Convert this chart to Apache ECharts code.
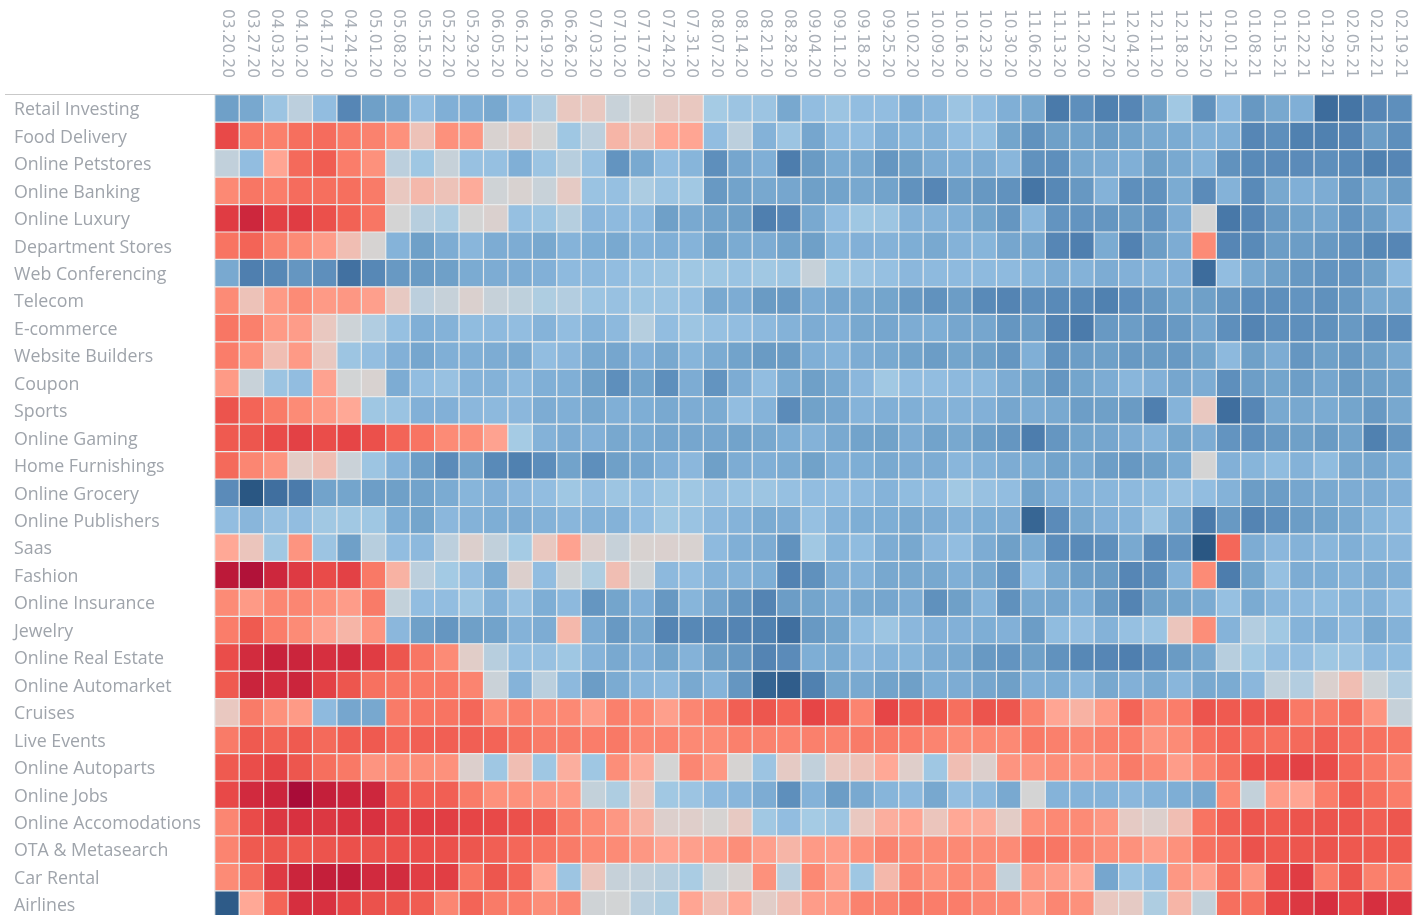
<!DOCTYPE html>
<html>
<head>
<meta charset="utf-8">
<style>html,body{margin:0;padding:0;background:#fff;overflow:hidden}#chart{width:1422px;height:915px}</style>
<script src="https://cdn.jsdelivr.net/npm/echarts@6/dist/echarts.min.js"></script>
</head>
<body>
<div id="chart"></div>
<script>
const dates = ['03.20.20','03.27.20','04.03.20','04.10.20','04.17.20','04.24.20','05.01.20','05.08.20','05.15.20','05.22.20','05.29.20','06.05.20','06.12.20','06.19.20','06.26.20','07.03.20','07.10.20','07.17.20','07.24.20','07.31.20','08.07.20','08.14.20','08.21.20','08.28.20','09.04.20','09.11.20','09.18.20','09.25.20','10.02.20','10.09.20','10.16.20','10.23.20','10.30.20','11.06.20','11.13.20','11.20.20','11.27.20','12.04.20','12.11.20','12.18.20','12.25.20','01.01.21','01.08.21','01.15.21','01.22.21','01.29.21','02.05.21','02.12.21','02.19.21'];
const categories = ['Retail Investing','Food Delivery','Online Petstores','Online Banking','Online Luxury','Department Stores','Web Conferencing','Telecom','E-commerce','Website Builders','Coupon','Sports','Online Gaming','Home Furnishings','Online Grocery','Online Publishers','Saas','Fashion','Online Insurance','Jewelry','Online Real Estate','Online Automarket','Cruises','Live Events','Online Autoparts','Online Jobs','Online Accomodations','OTA & Metasearch','Car Rental','Airlines'];

const retailInvesting = [-5,-4.5,-2.5,-1,-3,-6.5,-5,-4.5,-3,-4,-4,-4.5,-3,-1.5,1,1,-0.5,0,0.8,1,-2,-2.5,-2.5,-4.5,-3,-2.5,-3,-3,-4,-3.5,-2.5,-3,-4,-4.5,-7.2,-6,-6.8,-6.5,-5,-2.2,-5.8,-3.2,-5.5,-4.5,-4,-8,-7.5,-6.5,-6];
const foodDelivery = [5.8,3.8,3.5,4.2,4.3,3.7,3.4,2.8,1.2,2.8,2.6,0.2,0.7,0,-2.3,-1,1.6,1.2,2,2.1,-3,-1,-3.8,-2.5,-4.6,-3.2,-3,-4,-3.6,-3.8,-3,-2.8,-4.7,-5.8,-5,-4.8,-5.2,-4.8,-4.4,-4.3,-3.8,-4,-6.5,-6,-6.8,-6.8,-6.6,-5.2,-6];
const onlinePetstores = [-0.8,-3,2.1,4.4,4.9,3.6,2.8,-1,-2.3,-0.6,-2.7,-2.8,-4,-2.5,-1.2,-2.7,-5.7,-4.4,-3,-3.6,-6,-4.6,-4,-7,-5.3,-4.3,-4.5,-5.6,-5,-4.2,-4,-4.2,-3.5,-5.8,-6,-4.5,-4.2,-4,-5,-4.4,-3.8,-5.8,-6.3,-6.2,-6.2,-6,-6.3,-6.8,-6.5];
const onlineBanking = [3.1,3.9,3.6,4.3,4.2,4.2,3.7,1,1.5,1.2,1.9,-0.2,0.2,-0.5,0.8,-2.6,-2.8,-1.7,-2.5,-2.2,-5.4,-4.8,-4.5,-4.6,-5,-4.8,-4.5,-4.8,-5.8,-6.5,-5.2,-5.5,-5.8,-7.5,-6.4,-5.5,-3.8,-6,-5.8,-4.3,-6.2,-3.8,-6.3,-4.5,-4,-4.2,-5.6,-4.5,-5.2];
const onlineLuxury = [6.4,7.5,6.2,6.4,5.5,4.7,3.9,0,-1.2,-1.7,0,0.3,-2.8,-2.4,-1.3,-3.4,-3.2,-3.3,-5,-4.4,-4.8,-5,-6.9,-6.5,-4.4,-3,-2.3,-2.4,-3.8,-3.8,-4,-4.7,-5.6,-3.5,-5.7,-5.7,-5.6,-5.3,-5.7,-4.2,0,-7.3,-6.5,-5.4,-4.8,-4.6,-5.7,-5.2,-3.9];
const departmentStores = [4,4.6,3.4,3,2.4,1.3,0.1,-3.7,-5,-4.2,-3.5,-4.2,-4.2,-4.5,-3.7,-4.1,-4.4,-3.8,-4,-3.7,-4.8,-4.3,-4.2,-4.8,-5,-3.6,-3.9,-3.8,-4.1,-4.4,-3.8,-3.6,-4.6,-4.6,-6.5,-6.9,-4.3,-6.7,-5.2,-4.2,3,-6.5,-6.3,-5.2,-5.2,-5.4,-5.9,-6.4,-6.5];
const webConferencing = [-4.4,-6.9,-6.4,-5.6,-6,-7.7,-6.4,-5.4,-5.3,-5,-4.3,-4.2,-4.2,-3.9,-3.2,-3.3,-3,-2.6,-2.4,-2.3,-2.3,-2.6,-2.2,-2.4,-0.6,-2.3,-2.5,-2.8,-3.4,-3.2,-3.2,-3.2,-3.2,-3.6,-4.2,-3.8,-4.2,-3.9,-3.7,-3.9,-8,-3,-4.4,-5,-5.5,-5.7,-5.7,-5,-3.2];
const telecom = [3,1.2,2.5,3,2.5,2.6,2.3,0.9,-1,-0.6,0.3,-0.6,-0.9,-1.6,-1.4,-2.5,-2.7,-2.4,-2.5,-2.8,-4.4,-4.2,-5.3,-5.4,-4.2,-4.6,-4.5,-4.7,-5.4,-5.8,-5.2,-6.3,-6.6,-6,-6.3,-6.4,-6.8,-6.1,-5.5,-4.7,-5,-5.6,-6.1,-6,-5.7,-5.9,-5.5,-4.4,-4.4];
const eCommerce = [3.9,3.5,2.5,2.4,1,-0.3,-1.5,-2.8,-4,-3.8,-3.1,-3.2,-3,-3.7,-3,-3.7,-3.3,-1.3,-3,-2.4,-2.8,-3,-3.3,-3.8,-4.2,-3.9,-4.5,-4.6,-4.2,-4.1,-4.6,-4.6,-5.6,-5.2,-6.6,-7.1,-5.4,-5.2,-5.7,-5.4,-4.6,-6,-6.6,-6,-6,-5.9,-5.4,-6,-6.1];
const websiteBuilders = [3.6,2.8,1.3,2.5,1,-2.4,-2.9,-3.9,-4.6,-4,-4,-4.2,-4.4,-3,-3.4,-4.4,-4.6,-3.9,-4.5,-3.6,-4.3,-4.8,-5.3,-5.3,-4,-3.7,-4.2,-4.4,-4.8,-5.2,-4.7,-5,-5.6,-4,-5.8,-5.2,-5,-5.4,-5.3,-5.4,-4.7,-3.3,-5,-4.2,-5.6,-5,-5.5,-5,-4.4];
const coupon = [2.5,-0.5,-2.5,-3,2.2,-0.1,0.2,-4.2,-3,-2.7,-3.7,-3.8,-3.3,-4,-4,-5,-6,-4.8,-6,-4.2,-5.7,-4.2,-3,-4.3,-5,-4.4,-3.4,-2.2,-3,-3,-3.3,-3.3,-4.2,-4.7,-5.6,-4.7,-4.2,-3.5,-3.9,-4.6,-4.2,-6,-5.1,-4.7,-5.1,-4.6,-5.3,-5,-4.8];
const sports = [5.3,4.6,3.7,3,2.5,2,-2.3,-2.6,-3.9,-3.9,-3.4,-3.3,-3.4,-4.2,-4,-4.5,-4,-4.1,-4.4,-4.2,-4.3,-3,-3.7,-6.2,-4.9,-4.6,-3.7,-4,-4,-3.8,-3.8,-3.9,-4.6,-4.2,-4.4,-5.1,-5,-5.3,-6.9,-3.7,1,-7.9,-6.5,-4.4,-4.5,-4.3,-4.7,-5.4,-4.5];
const onlineGaming = [5,5.2,5.7,6.2,5.6,6,5.5,4.6,4,3,2.9,2.2,-2,-3.8,-4.2,-3.9,-4.5,-4.3,-4.6,-4.6,-4.6,-4.8,-4.5,-4.1,-3.8,-4.4,-4.8,-4.9,-4.2,-4.8,-4.5,-5.1,-5.6,-7,-5.6,-4.7,-4.6,-4.2,-3.7,-4.7,-4.2,-5.7,-6,-5.4,-5,-5.3,-4.8,-6.8,-5.6];
const homeFurnishings = [4.4,3.2,2.7,0.7,1.3,-0.4,-2.4,-3.7,-5.1,-6.2,-4.8,-6.3,-6.8,-6.1,-4.8,-6,-5,-4.6,-3.9,-3.4,-5,-4.2,-4,-4.3,-4.9,-4,-4.1,-4.4,-4.2,-4.2,-3.5,-3.8,-4.2,-4.3,-4.8,-4.4,-5.1,-5.5,-5,-4.3,0,-3.9,-3.6,-3.1,-3.8,-3.1,-4.5,-4.6,-4.1];
const onlineGrocery = [-6.2,-9,-7.8,-7.1,-4.8,-4.7,-5.1,-5,-4.8,-4.3,-3.6,-3.9,-3.4,-3,-2.3,-2.9,-2.4,-2.8,-2.3,-2.3,-2.7,-2.6,-2.4,-2.8,-3,-3,-3.2,-3.7,-3.1,-3,-2.2,-2.7,-3,-4.8,-3.9,-3.7,-3.5,-3.3,-3.1,-2.7,-3,-3.8,-5.2,-5.2,-4.6,-4.4,-4.2,-4.2,-3.9];
const onlinePublishers = [-3,-3.5,-2.8,-3,-2.2,-2.2,-2.3,-4.1,-4.7,-3.4,-3.8,-4.1,-4.2,-3.8,-3.5,-3.8,-3.8,-3,-2.2,-2.6,-3.3,-3.7,-4.3,-4.2,-2.8,-3.7,-4.1,-4.1,-4.4,-4.2,-3.8,-4.1,-4.2,-8.3,-6.2,-4.5,-3.9,-3.7,-2.5,-4.4,-7.2,-5.4,-6.6,-6,-5.2,-4.8,-4.4,-3.6,-3.2];
const saas = [2,1.1,-2.2,2.7,-2.5,-5,-1.2,-3,-3.3,-1,0.4,-0.8,-2,1,2.2,0.4,-0.6,0.2,0.3,0.2,-3.2,-4,-4.2,-5.8,-2.2,-3.6,-3.1,-4.2,-4.5,-3.4,-3,-4.2,-5,-4.3,-6.1,-6.3,-6,-4.4,-6.3,-5.7,-9,4.5,-4.2,-3.4,-3.8,-3.5,-4,-3.6,-3.4];
const fashion = [8.3,8.7,7.5,6.5,5.7,6.2,3.8,1.7,-1,-2.1,-2.9,-4.3,0.4,-3,-0.2,-1.6,1.3,-0.2,-3.3,-3,-3.7,-3.8,-4.1,-6.7,-5.9,-4.2,-3.8,-4.5,-4.5,-4.5,-4,-4.5,-5.7,-3,-4.4,-5.1,-5.3,-6.5,-6,-3.8,3,-7,-4.7,-2.8,-4.2,-4.1,-3.8,-4.2,-4];
const onlineInsurance = [3,2.5,3.2,3.2,2.8,2.4,3.7,-0.7,-3,-3,-2.4,-3.8,-2.7,-4.1,-3.3,-5.6,-4.7,-3.9,-5.5,-3.6,-4.6,-5.6,-6.6,-5.2,-4.7,-4.2,-4.5,-4.6,-4.2,-5.9,-5,-3.7,-5.9,-4.4,-4.6,-4,-5.4,-6.6,-5,-4.7,-4.3,-2.8,-4.3,-3.5,-3.3,-3.1,-3.6,-3.8,-3];
const jewelry = [3.6,5,3.6,3,2.2,1.6,2.7,-3.4,-5,-5.6,-5,-4.8,-3.8,-4.2,1.5,-4.2,-5.4,-4.5,-6.6,-6.4,-6.4,-6.6,-6.8,-7.8,-5.4,-4.7,-3.1,-2.4,-3.4,-3.9,-3.9,-4.1,-3.9,-5.2,-3.1,-2.9,-3.8,-2.8,-2.6,1.1,2.9,-3.7,-1.4,-2.2,-3.7,-4,-3.3,-4.4,-3.8];
const onlineRealEstate = [5.6,7.2,7.8,7.6,7,7.2,6.4,5.2,3.9,3,0.6,-1.2,-2.8,-2.7,-2.3,-3.7,-4.4,-3.9,-4.7,-3.8,-5,-5.5,-6.6,-6.2,-4.1,-4.3,-3.4,-3.7,-3.6,-4.2,-4.4,-5.4,-5.7,-5,-5.8,-6.4,-6.5,-6.9,-6.1,-5.3,-4.5,-1.2,-2.2,-2.9,-2.9,-2.3,-2.5,-3.2,-3.1];
const onlineAutomarket = [5,7.7,7.2,7.6,6.2,5.2,4.1,3.9,3.8,3.8,3.3,-0.4,-3.7,-1.1,-3.3,-5.2,-4.3,-3.5,-3.3,-4.4,-3.7,-5.6,-8.4,-8.7,-6.8,-4.7,-4.4,-4.8,-5,-4.1,-4.2,-4.6,-5,-4,-4.1,-3.5,-4.5,-3.9,-4.3,-3.5,-4.4,-4.3,-3.4,-0.8,-1.4,0.3,1.3,-0.3,-1.5];
const cruises = [1,3.7,2.8,2.5,-3.2,-4.6,-4.5,3.7,4,4,4.5,3,3.5,3.1,3.1,2.4,3.5,3.1,2.3,3.2,3.7,4.8,5.2,4.6,6,5.3,3.3,6,5,5,4.2,5.3,5.2,3.4,2.1,1.7,2.5,4.6,3.2,3.6,5.3,5,5.2,5.3,3.8,3.7,4.2,2.7,-0.6];
const liveEvents = [3.7,5,4.7,5,4.4,4.9,5,4.5,4.8,4.8,4.8,4.6,4.2,3.7,3.7,3.6,3.8,3.2,3.3,3.1,3,3.5,3.4,3.3,3.5,3.4,3.7,3.7,3.6,3.3,3,3.1,3.1,3.8,3.5,3.2,3.5,3.6,2.7,3,4.1,4.6,4.4,4.2,4.4,4.8,4.3,4.1,4];
const onlineAutoparts = [5,5.6,6.1,5.2,4.2,3.8,2.7,2.9,2.9,2.8,0.4,-2.3,1.3,-2.3,1.8,-2.3,2.9,1.9,0,3.2,2.6,0.1,-2.5,0.8,-0.8,1,1.2,2,0.5,-2.3,1.3,0.4,2.7,2.7,2.9,2.7,2.8,3.7,3.1,2.4,3.2,4.2,5.5,5.6,6.2,5.7,4.5,3.8,3.2];
const onlineJobs = [5.8,7.3,7.6,9,8,7.6,7.5,5.2,4.8,4.8,3.7,2.8,2.8,2.6,2.5,-0.7,-1.6,1,-2.2,-2.5,-3.2,-3.5,-4.2,-6,-3.8,-5.2,-4.4,-3.6,-3.3,-4.5,-2.9,-3.3,-4.4,0,-3.7,-3.7,-3.7,-3.4,-3.7,-4.1,-4.5,3.1,-0.7,2.4,2.1,3.6,5,4.2,3.6];
const onlineAccomodations = [3.2,5.7,6.6,6.9,6.6,6.8,6.9,6.2,6.4,6.3,6,5.8,5.5,5,3.7,3,2.6,1.7,0.4,0.5,0.1,0.9,-2.2,-3,-2,-2.4,1,1.8,2.1,1.1,2,1.9,0.7,2.8,3.1,3,2.6,0.8,0.4,1.3,4,4.8,5.2,5,5.3,5.3,5.3,4.8,5.2];
const otaMetasearch = [3.3,5,5.2,5.1,5.3,5.5,5.4,5.5,5.6,5.5,5.2,4.8,4.5,4,3.7,3.1,3,2.6,2.1,2.3,2.4,2.9,2.3,1.6,2.5,2.4,2.8,3.4,3,3,3.1,3,3,4,3.9,3.4,2.9,2.8,2.3,2.8,4.1,4.4,5.4,5.1,5.2,5.3,5.1,5,5];
const carRental = [3,4.3,6.5,7.6,8,8.1,7.3,7.2,6.3,6.3,4,5.2,4.6,2,-2.4,1.1,-0.6,-0.8,-1.2,-1.8,-0.2,0.2,2.8,-1.1,3.1,2.3,-2.3,1.5,3.2,2.8,3.1,2.9,-0.7,2.6,2.4,2,-4.6,-2.6,-3.1,2.6,2.2,4.2,2.7,5.7,6.4,3.6,5.3,3.5,3.5];
const airlines = [-8.8,2,4.6,7,6.9,6,5.4,5.2,4.9,3.2,4.6,3.7,3.6,2.9,3.2,-0.2,-0.1,-1.1,-1.6,2.1,1.3,2,0.6,1.3,2.4,2.5,3.4,3.4,3.9,3.6,3.6,3.2,3.1,2.5,3.2,2.8,1,0.8,-1.6,1.6,-0.7,4.2,4.2,6,6.6,7,6,7,6.7];

const rows = [retailInvesting,foodDelivery,onlinePetstores,onlineBanking,onlineLuxury,departmentStores,webConferencing,telecom,eCommerce,websiteBuilders,coupon,sports,onlineGaming,homeFurnishings,onlineGrocery,onlinePublishers,saas,fashion,onlineInsurance,jewelry,onlineRealEstate,onlineAutomarket,cruises,liveEvents,onlineAutoparts,onlineJobs,onlineAccomodations,otaMetasearch,carRental,airlines];
const data = [];
rows.forEach((r, y) => r.forEach((v, x) => data.push([x, y, v])));

const palette = ['#2a5783','#3d6c9c','#4d7dad','#5e8fbc','#6fa0c8','#80afd6','#92bde0','#a5cbe4','#bccfdd','#d4d4d4','#e9c8c0','#ffa896','#fc8b76','#f87462','#ef5a50','#e64546','#d62f3f','#c41f3a','#a90c38'];

const chart = echarts.init(document.getElementById('chart'), null, {renderer:'canvas'});
chart.setOption({
  animation:false,
  backgroundColor:'#ffffff',
  grid:{left:215,top:95,width:1197,height:823.5,containLabel:false,outerBoundsMode:'none'},
  xAxis:{type:'category',position:'top',data:dates,
    axisLine:{show:false},axisTick:{show:false},splitLine:{show:false},
    axisLabel:{interval:0,rotate:90,margin:17,fontFamily:'DejaVu Sans',fontSize:15.5,color:'#a9afb7'}},
  yAxis:{type:'category',inverse:true,data:categories,
    axisLine:{show:true,lineStyle:{color:'#dcdcdc',width:1}},axisTick:{show:false},splitLine:{show:false},
    axisLabel:{interval:0,align:'left',margin:201,fontFamily:'Open Sans',fontSize:17.8,color:'#9fa4ab',verticalAlign:'top',lineHeight:3}},
  visualMap:{show:false,type:'continuous',min:-9,max:9,dimension:2,inRange:{color:palette}},
  graphic:[{type:'line',silent:true,z:10,shape:{x1:5,y1:94.5,x2:1412,y2:94.5},style:{stroke:'#c9c9c9',lineWidth:1.2}}],
  series:[{type:'heatmap',data:data,progressive:0,
    itemStyle:{borderColor:'#e9ebec',borderWidth:1.2},
    emphasis:{disabled:true},label:{show:false}}]
});
</script>
</body>
</html>
